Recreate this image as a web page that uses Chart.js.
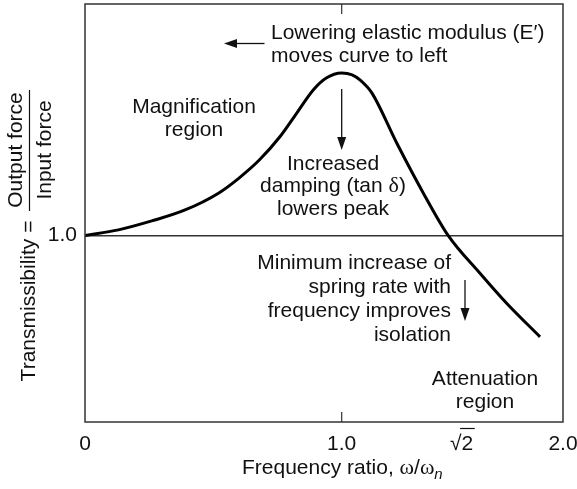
<!DOCTYPE html>
<html lang="en">
<head>
<meta charset="UTF-8">
<title>Transmissibility</title>
<script src="https://cdn.jsdelivr.net/npm/chart.js"></script>
<style>
  html, body { margin: 0; padding: 0; background: #fff; }
  #wrap { width: 577px; height: 489px; }
</style>
</head>
<body>
<div id="wrap"><canvas id="chart"></canvas></div>
<script>
// curve: frequency ratio w/wn -> transmissibility
const freqRatio = [0, 0.13, 0.26, 0.39, 0.52, 0.60, 0.68, 0.76, 0.825, 0.89, 0.94, 1.0, 1.036, 1.063, 1.104, 1.19, 1.282, 1.368, 1.52, 1.674, 1.867];
const transmiss = [1.0, 1.031, 1.079, 1.138, 1.228, 1.309, 1.407, 1.532, 1.658, 1.783, 1.846, 1.873, 1.863, 1.836, 1.766, 1.497, 1.228, 1.0, 0.798, 0.637, 0.457];

const xTickValues = [0, 1, Math.SQRT2, 2];
const xTickLabels = ['0', '1.0', '\u221A2', '2.0'];
const yTickValues = [1];
const yTickLabels = ['1.0'];

// the axis is schematic: ticks are not evenly spaced, this is where each one sits
const xTickSpots = [0, 1.074, 1.576, 2];

const FONT = '"Liberation Sans", Arial, Helvetica, sans-serif';
const SERIF = '"Liberation Serif", "DejaVu Serif", serif';
const INK = '#111';

function warp(v) {
  for (let i = 1; i < xTickValues.length; i++) {
    if (v <= xTickValues[i] || i === xTickValues.length - 1) {
      const a = xTickValues[i - 1], b = xTickValues[i];
      const t = (v - a) / (b - a);
      return xTickSpots[i - 1] + t * (xTickSpots[i] - xTickSpots[i - 1]);
    }
  }
  return v;
}
function unwarp(d) {
  for (let i = 1; i < xTickSpots.length; i++) {
    if (d <= xTickSpots[i] || i === xTickSpots.length - 1) {
      const a = xTickSpots[i - 1], b = xTickSpots[i];
      const t = (d - a) / (b - a);
      return xTickValues[i - 1] + t * (xTickValues[i] - xTickValues[i - 1]);
    }
  }
  return d;
}

class WarpScale extends Chart.LinearScale {
  getPixelForValue(value) { return super.getPixelForValue(warp(value)); }
  getValueForPixel(pixel) { return unwarp(super.getValueForPixel(pixel)); }
}
WarpScale.id = 'warp';
WarpScale.defaults = Chart.LinearScale.defaults;
Chart.register(WarpScale);

function arrow(ctx, x1, y1, x2, y2) {
  const ang = Math.atan2(y2 - y1, x2 - x1), len = 13, half = 4.5;
  const bx = x2 - len * Math.cos(ang), by = y2 - len * Math.sin(ang);
  ctx.lineWidth = 1.3;
  ctx.beginPath(); ctx.moveTo(x1, y1); ctx.lineTo(bx, by); ctx.stroke();
  ctx.beginPath();
  ctx.moveTo(x2, y2);
  ctx.lineTo(bx + half * Math.sin(ang), by - half * Math.cos(ang));
  ctx.lineTo(bx - half * Math.sin(ang), by + half * Math.cos(ang));
  ctx.closePath(); ctx.fill();
}

// text made of runs: [text, font] pairs; greek letters go in serif like the original
function runs(ctx, parts, x, y, align) {
  const widths = parts.map(p => { ctx.font = p[1]; return ctx.measureText(p[0]).width; });
  const total = widths.reduce((s, w) => s + w, 0);
  let cx = align === 'center' ? x - total / 2 : align === 'right' ? x - total : x;
  ctx.textAlign = 'left';
  parts.forEach((p, i) => {
    ctx.font = p[1];
    ctx.fillText(p[0], cx, y + (p[2] || 0));
    cx += widths[i];
  });
}

const SANS21 = '21px ' + FONT;
const notes = [
  { lines: ['Lowering elastic modulus (E\u2032)', 'moves curve to left'], x: 271, y: 39, align: 'left', lh: 23 },
  { lines: ['Magnification', 'region'], x: 194, y: 113, align: 'center', lh: 23 },
  { lines: ['Increased', [['damping (tan ', SANS21], ['\u03B4', '22px ' + SERIF], [')', SANS21]], 'lowers peak'], x: 333, y: 169.5, align: 'center', lh: 22.8 },
  { lines: ['Minimum increase of', 'spring rate with', 'frequency improves', 'isolation'], x: 451, y: 269, align: 'right', lh: 24 },
  { lines: ['Attenuation', 'region'], x: 485, y: 385, align: 'center', lh: 23 }
];

const decor = {
  id: 'decor',
  afterDraw(chart) {
    const ctx = chart.ctx, a = chart.chartArea;
    const xs = chart.scales.x;
    ctx.save();
    ctx.strokeStyle = '#333';
    ctx.fillStyle = INK;

    // frame
    ctx.lineWidth = 1.5;
    ctx.strokeRect(a.left, a.top, a.right - a.left, a.bottom - a.top);

    // inner tick marks at w/wn = 1
    const p1 = xs.getPixelForValue(1);
    ctx.beginPath();
    ctx.moveTo(p1, a.top); ctx.lineTo(p1, a.top + 10);
    ctx.moveTo(p1, a.bottom); ctx.lineTo(p1, a.bottom - 10);
    ctx.lineWidth = 1.2; ctx.stroke();

    // bar over the 2 of the root label
    ctx.font = SANS21;
    const pr = xs.getPixelForValue(Math.SQRT2);
    const w = ctx.measureText('\u221A2').width, wr = ctx.measureText('\u221A').width;
    ctx.beginPath();
    ctx.moveTo(pr - w / 2 + wr - 1.5, a.bottom + 6.5);
    ctx.lineTo(pr + w / 2 + 1.5, a.bottom + 6.5);
    ctx.lineWidth = 1.2; ctx.strokeStyle = INK; ctx.stroke();

    // annotations
    ctx.textBaseline = 'alphabetic';
    notes.forEach(n => {
      n.lines.forEach((s, i) => {
        const y = n.y + i * n.lh;
        if (Array.isArray(s)) { runs(ctx, s, n.x, y, n.align); return; }
        ctx.font = SANS21; ctx.textAlign = n.align;
        ctx.fillText(s, n.x, y);
      });
    });
    ctx.strokeStyle = INK;
    arrow(ctx, 264.5, 43.5, 224, 43.5);
    arrow(ctx, p1, 89, p1, 150);
    arrow(ctx, 465, 280, 465, 321);

    // y title with fraction
    ctx.font = SANS21;
    ctx.textAlign = 'center';
    ctx.save();
    ctx.translate(35, 301); ctx.rotate(-Math.PI / 2);
    ctx.fillText('Transmissibility =', 0, 0);
    ctx.restore();
    ctx.save();
    ctx.translate(22, 150); ctx.rotate(-Math.PI / 2);
    ctx.fillText('Output force', 0, 0);
    ctx.restore();
    ctx.save();
    ctx.translate(51, 150); ctx.rotate(-Math.PI / 2);
    ctx.fillText('Input force', 0, 0);
    ctx.restore();
    ctx.beginPath(); ctx.moveTo(29.5, 90); ctx.lineTo(29.5, 211);
    ctx.lineWidth = 1.2; ctx.stroke();

    // x title
    runs(ctx, [
      ['Frequency ratio, ', SANS21],
      ['\u03C9', '22px ' + SERIF],
      ['/', SANS21],
      ['\u03C9', '22px ' + SERIF],
      ['n', 'italic 15px ' + FONT, 5]
    ], 242, 474, 'left');
    ctx.restore();
  }
};

new Chart(document.getElementById('chart'), {
  type: 'line',
  data: {
    datasets: [{
      data: freqRatio.map((f, i) => ({ x: f, y: transmiss[i] })),
      borderColor: '#000',
      borderWidth: 3,
      pointRadius: 0,
      cubicInterpolationMode: 'monotone',
      fill: false
    }]
  },
  options: {
    responsive: true,
    maintainAspectRatio: false,
    animation: false,
    layout: { padding: { left: 0, right: 14, top: 4, bottom: 0 } },
    plugins: { legend: { display: false }, tooltip: { enabled: false } },
    scales: {
      x: {
        type: 'warp',
        min: 0, max: 2,
        border: { display: false },
        grid: { display: false },
        ticks: {
          autoSkip: false, maxRotation: 0, padding: 2,
          color: INK, font: { family: FONT, size: 21 },
          callback: (v, i) => xTickLabels[i]
        },
        afterBuildTicks: s => { s.ticks = xTickValues.map(v => ({ value: v })); },
        afterFit: s => { s.height = 67; s.paddingLeft = 0; s.paddingRight = 0; }
      },
      y: {
        type: 'linear',
        min: 0, max: 2.243,
        border: { display: false },
        grid: { color: '#333', lineWidth: 1.5, drawTicks: false },
        ticks: {
          padding: 8, color: INK, font: { family: FONT, size: 21 },
          callback: (v, i) => yTickLabels[i]
        },
        afterBuildTicks: s => { s.ticks = yTickValues.map(v => ({ value: v })); },
        afterFit: s => { s.width = 85; s.paddingTop = 0; s.paddingBottom = 0; }
      }
    }
  },
  plugins: [decor]
});
</script>
</body>
</html>
